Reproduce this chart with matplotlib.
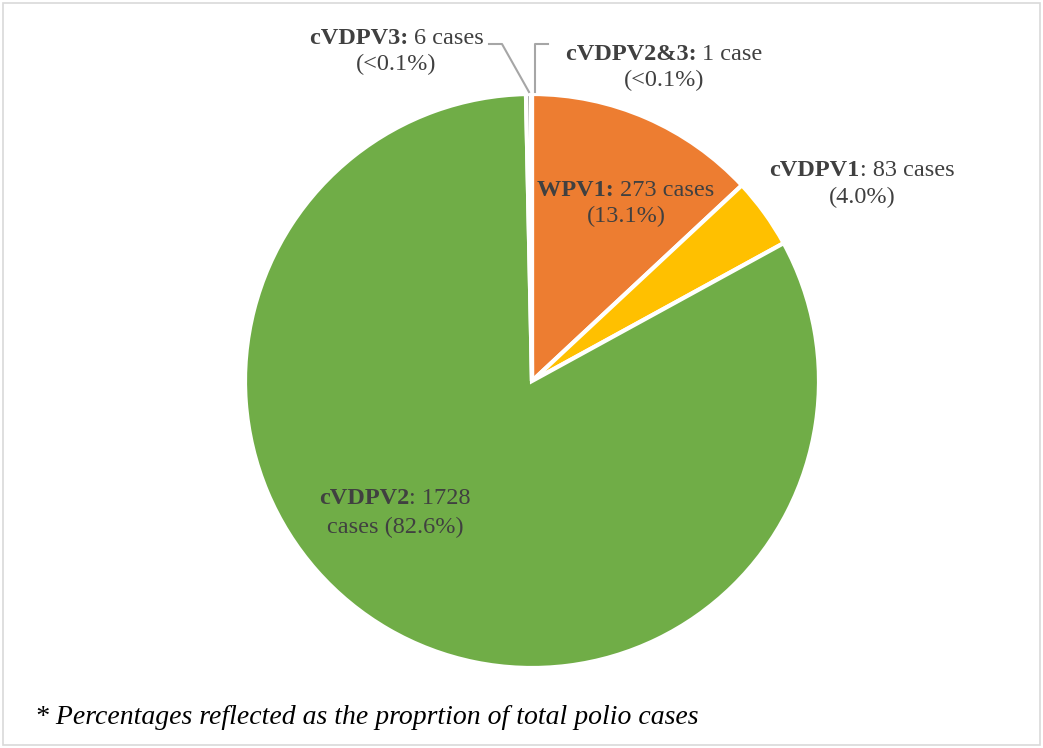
import matplotlib

matplotlib.use("Agg")

import matplotlib.pyplot as plt
from matplotlib.patches import Rectangle

# ── Data ─────────────────────────────────────────────────────────────────────
types = ["WPV1", "cVDPV1", "cVDPV2", "cVDPV3", "cVDPV2&3"]
cases = [273, 83, 1728, 6, 1]
pct_labels = ["(13.1%)", "(4.0%)", "(82.6%)", "(<0.1%)", "(<0.1%)"]
colors = ["#ED7D31", "#FFC000", "#70AD47", "#A5A5A5", "#5B9BD5"]
footnote = "* Percentages reflected as the proprtion of total polio cases"

W, H = 1043, 748
TXT = "#404040"
FONT = "Liberation Serif"
FS = 17.5

fig = plt.figure(figsize=(W / 100, H / 100), dpi=100)
fig.patch.set_facecolor("white")

# frame around the chart area
fig.patches.append(
    Rectangle((3 / W, 3 / H), (W - 6) / W, (H - 6) / H, transform=fig.transFigure,
              fill=False, edgecolor="#D9D9D9", linewidth=1.2)
)

# pie centred at (532, 381) px with radius 287 px
cx, cy, r = 532, 381, 287
ax = fig.add_axes([(cx - r) / W, (H - cy - r) / H, 2 * r / W, 2 * r / H])
ax.pie(cases, colors=colors, startangle=90, counterclock=False, radius=1,
       wedgeprops=dict(edgecolor="white", linewidth=3))
ax.set_xlim(-1, 1)
ax.set_ylim(-1, 1)
ax.set_aspect("auto")
ax.axis("off")

renderer = fig.canvas.get_renderer()


def fx(px):
    return px / W


def fy(py):
    return (H - py) / H


def mixed_line(x, y, bold, regular, ha="center"):
    t1 = fig.text(0, 0, bold, fontsize=FS, family=FONT, weight="bold", color=TXT, va="center")
    t2 = fig.text(0, 0, regular, fontsize=FS, family=FONT, color=TXT, va="center")
    w1 = t1.get_window_extent(renderer).width
    w2 = t2.get_window_extent(renderer).width
    total = w1 + w2
    if ha == "center":
        x0 = x - total / 2
    elif ha == "right":
        x0 = x - total
    else:
        x0 = x
    t1.set_position((fx(x0), fy(y)))
    t2.set_position((fx(x0 + w1), fy(y)))


def plain(x, y, s):
    fig.text(fx(x), fy(y), s, fontsize=FS, family=FONT, color=TXT, ha="center", va="center")


# WPV1
mixed_line(626, 191, types[0] + ": ", f"{cases[0]} cases")
plain(626, 216, pct_labels[0])
# cVDPV1
mixed_line(862, 171, types[1], f": {cases[1]} cases")
plain(862, 197, pct_labels[1])
# cVDPV2
mixed_line(395, 499, types[2], f": {cases[2]}")
plain(395, 527, f"cases {pct_labels[2]}")
# cVDPV3
mixed_line(484, 39, types[3] + ": ", f"{cases[3]} cases", ha="right")
plain(396, 64, pct_labels[3])
# cVDPV2&3
mixed_line(664, 54, types[4] + ": ", f"{cases[4]} case")
plain(664, 80, pct_labels[4])

# leader lines
lc = "#A6A6A6"
fig.add_artist(plt.Line2D([fx(489), fx(502), fx(529)], [fy(44), fy(44), fy(92)],
                          color=lc, linewidth=1.5, transform=fig.transFigure))
fig.add_artist(plt.Line2D([fx(548), fx(535), fx(535)], [fy(44), fy(44), fy(92)],
                          color=lc, linewidth=1.5, transform=fig.transFigure))

# footnote
fig.text(fx(35), fy(718), footnote, fontsize=20, family=FONT, style="italic",
         color="black", ha="left", va="center")

fig.savefig("out.png", dpi=100)
